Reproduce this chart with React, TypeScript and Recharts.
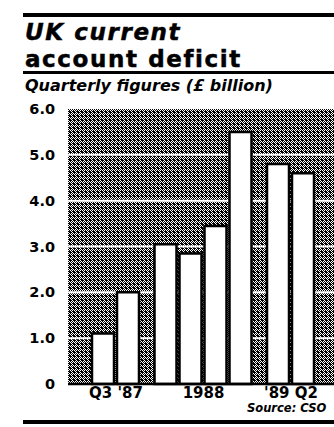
import { BarChart, Bar, XAxis, YAxis, CartesianGrid } from 'recharts';

// Quarterly UK current account deficit, £ billion
const quarters = ['Q3 1987', 'Q4 1987', 'Q1 1988', 'Q2 1988', 'Q3 1988', 'Q4 1988', 'Q1 1989', 'Q2 1989'];
const yearGroup = [0, 0, 1, 1, 1, 1, 2, 2];
const deficit = [1.1, 2.0, 3.05, 2.85, 3.45, 5.5, 4.8, 4.6];
const groupLabels = ["Q3 '87", '1988', "'89 Q2"];
const yTicks = [0, 1, 2, 3, 4, 5, 6];

// year groups sit half a slot apart
const data = quarters.map((q, i) => ({
  quarter: q,
  pos: i + yearGroup[i] * 0.5,
  value: deficit[i],
}));

const groupTicks = groupLabels.map((_, g) => {
  const members = data.filter((_, i) => yearGroup[i] === g);
  return members.reduce((s, d) => s + d.pos, 0) / members.length;
});

const FONT = '"DejaVu Sans", sans-serif';

// halftone-ish screen: 6 white dots in a 4x4 black cell
const dots = [
  [0, 0], [1, 1], [3, 1], [0, 2], [2, 2], [3, 3],
];

export default function App() {
  return (
    <div
      style={{
        position: 'absolute',
        left: 0,
        top: 0,
        width: 334,
        height: 427,
        overflow: 'hidden',
        background: '#fff',
        fontFamily: FONT,
        color: '#000',
      }}
    >
      <svg width={0} height={0} style={{ position: 'absolute' }}>
        <defs>
          <pattern id="stipple" width={4} height={4} patternUnits="userSpaceOnUse">
            <rect width={4} height={4} fill="#000" />
            {dots.map(([x, y]) => (
              <rect key={`${x}-${y}`} x={x} y={y} width={1} height={1} fill="#fff" />
            ))}
          </pattern>
        </defs>
      </svg>

      <BarChart
        width={334}
        height={427}
        data={data}
        margin={{ top: 109, right: 0, bottom: 13, left: 0 }}
        style={{ position: 'absolute', left: 0, top: 0 }}
      >
        <CartesianGrid
          vertical={false}
          horizontalValues={[1, 2, 3, 4, 5]}
          stroke="#fff"
          strokeWidth={2}
          fill="url(#stipple)"
          fillOpacity={1}
        />
        <XAxis
          type="number"
          dataKey="pos"
          domain={[-1.42, 9.22]}
          allowDataOverflow
          ticks={groupTicks}
          tickFormatter={(v) => groupLabels[groupTicks.indexOf(v)] ?? ''}
          tick={{ fontFamily: FONT, fontWeight: 700, fontSize: 15, fill: '#000' }}
          tickLine={false}
          tickSize={0}
          tickMargin={3}
          axisLine={{ stroke: '#000', strokeWidth: 2.5 }}
          height={30}
        />
        <YAxis
          domain={[0, 6]}
          ticks={yTicks}
          tickFormatter={(v) => (v === 0 ? '0' : Number(v).toFixed(1))}
          tick={{ fontFamily: FONT, fontWeight: 700, fontSize: 14.5, fill: '#000' }}
          tickLine={false}
          tickSize={0}
          tickMargin={13}
          axisLine={false}
          width={68}
        />
        <Bar
          dataKey="value"
          fill="#fff"
          stroke="#000"
          strokeWidth={2.5}
          barSize={22}
          isAnimationActive={false}
        />
      </BarChart>

      <div style={{ position: 'absolute', left: 23, top: 13, width: 311, height: 4, background: '#000' }} />
      <div
        style={{
          position: 'absolute',
          left: 25,
          top: 19,
          fontSize: 23,
          lineHeight: '27px',
          fontWeight: 700,
          letterSpacing: 1.6,
          WebkitTextStroke: '0.5px #000',
          whiteSpace: 'nowrap',
        }}
      >
        <div style={{ fontStyle: 'italic' }}>UK current</div>
        <div>account deficit</div>
      </div>
      <div style={{ position: 'absolute', left: 23, top: 71, width: 311, height: 3, background: '#000' }} />
      <div
        style={{
          position: 'absolute',
          left: 25,
          top: 77,
          fontSize: 16,
          lineHeight: '18px',
          fontWeight: 700,
          fontStyle: 'italic',
          whiteSpace: 'nowrap',
        }}
      >
        Quarterly figures (£ billion)
      </div>
      <div
        style={{
          position: 'absolute',
          left: 247,
          top: 402,
          fontSize: 11.5,
          lineHeight: '12px',
          fontWeight: 700,
          fontStyle: 'italic',
          whiteSpace: 'nowrap',
        }}
      >
        Source: CSO
      </div>
      <div style={{ position: 'absolute', left: 23, top: 420, width: 311, height: 4, background: '#000' }} />
    </div>
  );
}
